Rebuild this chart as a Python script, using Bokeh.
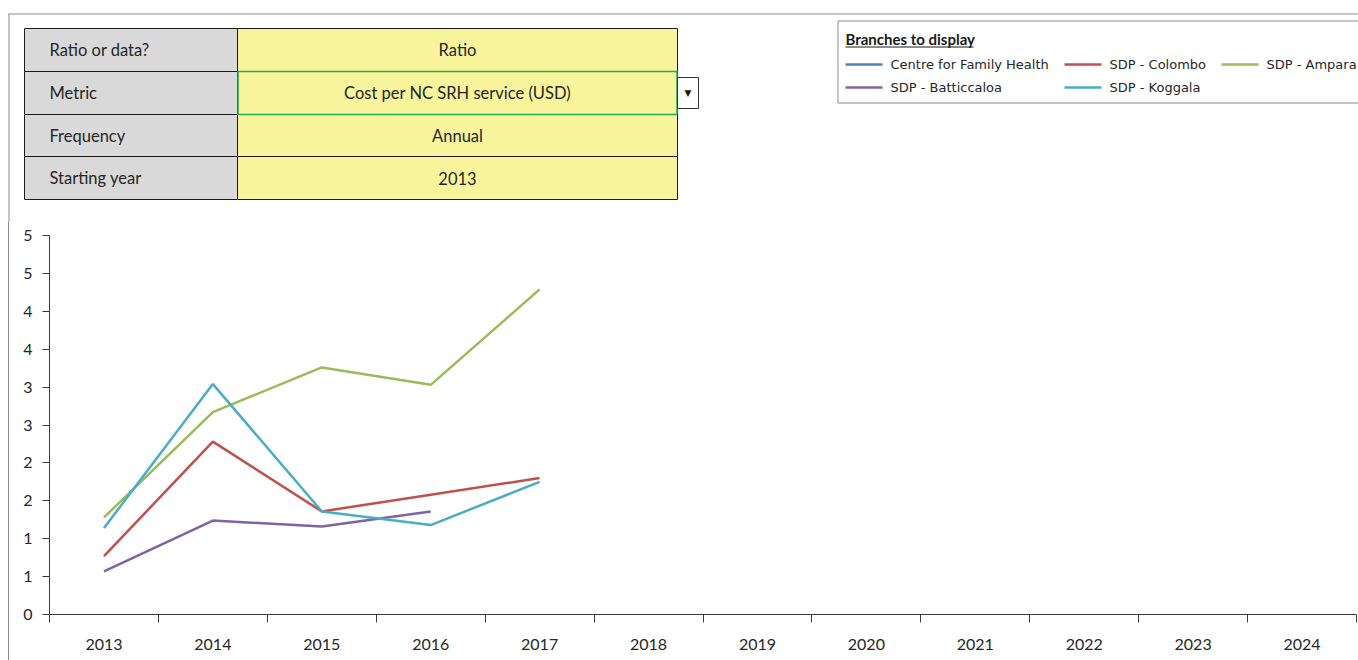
from bokeh.plotting import figure
from bokeh.layouts import column
from bokeh.models import Range1d, FixedTicker
from bokeh.core.properties import value
from bokeh.embed import file_html
from bokeh.resources import INLINE

# ---------------- data ----------------
years = [2013, 2014, 2015, 2016, 2017, 2018, 2019, 2020, 2021, 2022, 2023, 2024]
branch_names = ["Centre for Family Health", "SDP - Colombo", "SDP - Ampara",
                "SDP - Batticcaloa", "SDP - Koggala"]
branch_colors = ["#4F81BD", "#C0504D", "#9BBB59", "#8064A2", "#4BACC6"]
centre_family_health = []
sdp_colombo = [0.77, 2.28, 1.36, 1.58, 1.80]
sdp_ampara = [1.28, 2.67, 3.26, 3.03, 4.29]
sdp_batticcaloa = [0.57, 1.24, 1.16, 1.36]
sdp_koggala = [1.14, 3.04, 1.36, 1.18, 1.75]
series = [centre_family_health, sdp_colombo, sdp_ampara, sdp_batticcaloa, sdp_koggala]

y_ticks = [0, 0.5, 1.0, 1.5, 2.0, 2.5, 3.0, 3.5, 4.0, 4.5, 5.0]
y_tick_labels = ["0", "1", "1", "2", "2", "3", "3", "4", "4", "5", "5"]

table_keys = ["Ratio or data?", "Metric", "Frequency", "Starting year"]
table_values = ["Ratio", "Cost per NC SRH service (USD)", "Annual", "2013"]
legend_title = "Branches to display"

W = 1358
TOP_H = 222
BOT_H = 438
TXT = "#262626"
FRAME = "#8c8c8c"

# ---------------- top panel: selector table + legend ----------------
top = figure(width=W, height=TOP_H, x_range=Range1d(0, W), y_range=Range1d(TOP_H, 0),
             x_axis_type=None, y_axis_type=None, toolbar_location=None,
             output_backend="svg", min_border=0, outline_line_color=None, frame_align=False)

# outer frame (top + left)
top.quad(left=[8, 8], right=[W, 9], top=[13, 13], bottom=[14, TOP_H],
         fill_color=FRAME, line_color=None)

row_edges = [28, 71, 114, 156, 199]
col_l, col_m, col_r = 24, 237, 677
tops = row_edges[:-1]
bots = row_edges[1:]
top.quad(left=[col_l] * 4, right=[col_m] * 4, top=tops, bottom=bots,
         fill_color="#d9d9d9", line_color="#1a1a1a", line_width=1)
top.quad(left=[col_m] * 4, right=[col_r] * 4, top=tops, bottom=bots,
         fill_color="#f8f49c", line_color="#1a1a1a", line_width=1)
# selected metric cell (green border)
top.quad(left=[col_m + 0.5], right=[col_r - 0.5], top=[row_edges[1]], bottom=[row_edges[2]],
         fill_color=None, line_color="#22aa55", line_width=1.5)
# dropdown button
top.quad(left=[col_r], right=[col_r + 21], top=[77], bottom=[108],
         fill_color="white", line_color="#333333", line_width=1)
top.text(x=[col_r + 10.5], y=[92], text=["▼"], text_font=value("DejaVu Sans"),
         text_font_size=value("9px"), text_align="center", text_baseline="middle", text_color="#1a1a1a")

mids = [(a + b) / 2 for a, b in zip(tops, bots)]
top.text(x=[49] * 4, y=mids, text=table_keys, text_font=value("Lato"),
         text_font_size=value("16.5px"), text_align="left", text_baseline="middle", text_color=TXT)
top.text(x=[(col_m + col_r) / 2] * 4, y=mids, text=table_values, text_font=value("Lato"),
         text_font_size=value("16.5px"), text_align="center", text_baseline="middle", text_color=TXT)

# legend box
top.quad(left=[837.5], right=[W + 5], top=[20.5], bottom=[102.5], fill_color="white",
         line_color=FRAME, line_width=1)
top.text(x=[845], y=[38], text=[legend_title], text_font=value("Lato"), text_font_style="bold",
         text_font_size=value("15px"), text_align="left", text_baseline="middle", text_color="#1a1a1a")
top.segment(x0=[845], y0=[46.5], x1=[973], y1=[46.5], line_color="#1a1a1a", line_width=1)

col_x = [845, 1064, 1221]
row_y = [64, 87]
for i, (name, color) in enumerate(zip(branch_names, branch_colors)):
    cx = col_x[i % 3]
    cy = row_y[i // 3]
    top.segment(x0=[cx], y0=[cy], x1=[cx + 37], y1=[cy], line_color=color, line_width=2.5)
    top.text(x=[cx + 45], y=[cy], text=[name], text_font=value("DejaVu Sans"),
             text_font_size=value("13px"), text_align="left", text_baseline="middle", text_color=TXT)

# ---------------- bottom panel: line chart ----------------
p = figure(width=W, height=BOT_H, x_range=Range1d(years[0] - 0.5, years[-1] + 0.5),
           y_range=Range1d(0, 5), toolbar_location=None, output_backend="svg",
           min_border_left=49, min_border_right=2, min_border_top=13, min_border_bottom=46,
           outline_line_color=None, frame_align=False,
           border_fill_color=None, background_fill_color=None)
p.grid.visible = False

for vals, color in zip(series, branch_colors):
    if len(vals) == 0:
        continue
    p.line(x=years[:len(vals)], y=vals, line_color=color, line_width=2.5)

AX = "#3a3a3a"
xax = p.xaxis[0]
xax.ticker = FixedTicker(ticks=years, minor_ticks=[y - 0.5 for y in years] + [years[-1] + 0.5])
xax.major_tick_out = 0
xax.major_tick_in = 0
xax.minor_tick_out = 8
xax.minor_tick_in = 0
xax.axis_line_color = AX
xax.minor_tick_line_color = AX
xax.major_label_standoff = 16
xax.major_label_text_font = "Lato"
xax.major_label_text_font_size = "16px"
xax.major_label_text_color = TXT

yax = p.yaxis[0]
yax.ticker = FixedTicker(ticks=y_ticks)
yax.major_label_overrides = {float(t): l for t, l in zip(y_ticks, y_tick_labels)}
yax.major_tick_out = 7
yax.major_tick_in = 0
yax.minor_tick_line_color = None
yax.axis_line_color = AX
yax.major_tick_line_color = AX
yax.major_label_standoff = 10
yax.major_label_text_font = "Lato"
yax.major_label_text_font_size = "16px"
yax.major_label_text_color = TXT

# the outer frame's left edge continues down the page behind the (transparent) chart panel
layout = column(top, p, styles={"background-color": "white",
                                "background-image": "linear-gradient(#8c8c8c, #8c8c8c)",
                                "background-size": "1px 100%",
                                "background-position": "8px 13px",
                                "background-repeat": "no-repeat"})
open("out.html", "w").write(file_html(layout, INLINE))
